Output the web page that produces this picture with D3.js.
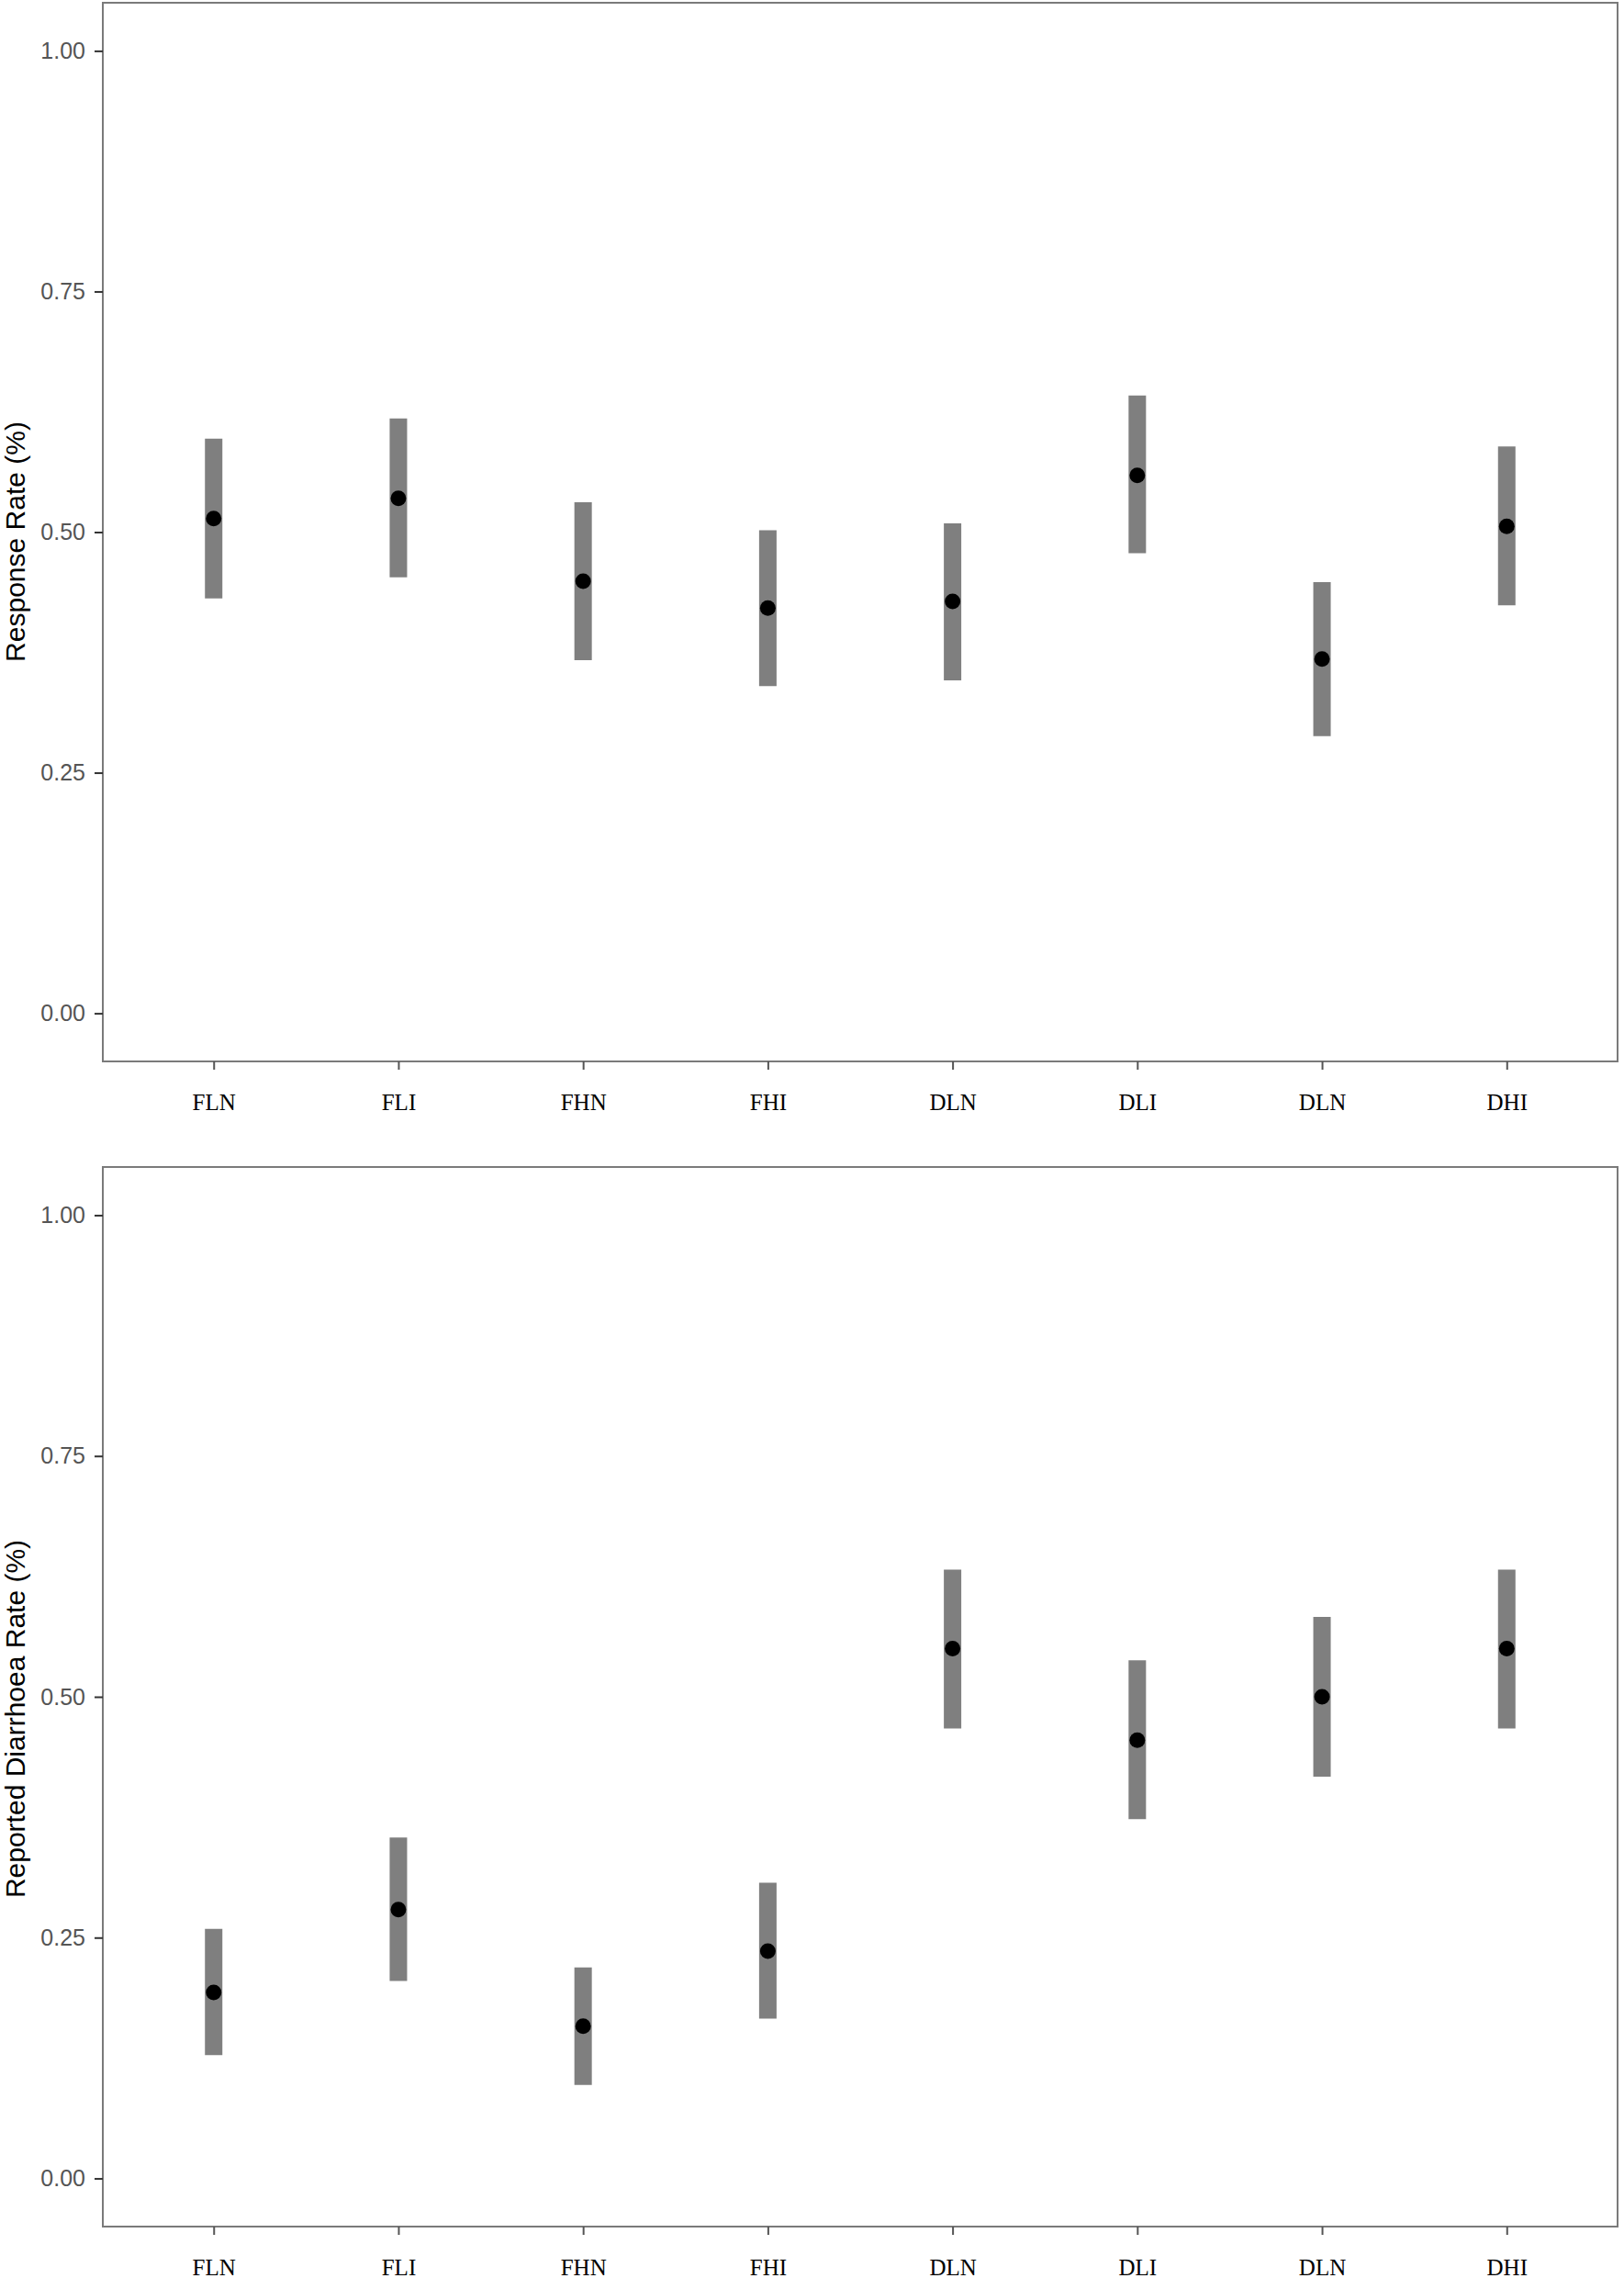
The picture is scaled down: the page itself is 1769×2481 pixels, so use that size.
<!DOCTYPE html>
<html>
<head>
<meta charset="utf-8">
<script src="https://cdn.jsdelivr.net/npm/d3@7"></script>
<style>
  body { margin: 0; background: #fff; }
  .ytick text { font-family: "Liberation Sans", Arial, sans-serif; fill: #555; }
  .xtick text { font-family: "Liberation Serif", "Times New Roman", serif; fill: #000; }
</style>
</head>
<body>
<svg id="chart" width="1769" height="2481"></svg>
<script>
// groups along the x axis (same order in both panels)
var groups = ['FLN', 'FLI', 'FHN', 'FHI', 'DLN', 'DLI', 'DLN ', 'DHI'];
var groupLabels = ['FLN', 'FLI', 'FHN', 'FHI', 'DLN', 'DLI', 'DLN', 'DHI'];
var yTicks = [0, 0.25, 0.5, 0.75, 1];

// panel 1: response rate
var responseMean  = [0.514, 0.535, 0.449, 0.421, 0.428, 0.559, 0.368, 0.506];
var responseLower = [0.431, 0.453, 0.367, 0.340, 0.346, 0.478, 0.288, 0.424];
var responseUpper = [0.597, 0.618, 0.531, 0.502, 0.509, 0.642, 0.448, 0.589];

// panel 2: reported diarrhoea rate
var diarrMean  = [0.193, 0.279, 0.158, 0.236, 0.550, 0.455, 0.500, 0.550];
var diarrLower = [0.128, 0.205, 0.097, 0.166, 0.467, 0.373, 0.417, 0.467];
var diarrUpper = [0.259, 0.354, 0.219, 0.307, 0.632, 0.538, 0.583, 0.632];

var panels = [
    {title: 'Response Rate (%)', mean: responseMean, lower: responseLower, upper: responseUpper,
     top: 3, bottom: 1156, titleY: 590},
    {title: 'Reported Diarrhoea Rate (%)', mean: diarrMean, lower: diarrLower, upper: diarrUpper,
     top: 1271, bottom: 2425, titleY: 1872}
];

var left = 112, right = 1762;
var svg = d3.select('#chart');

// discrete axis with ggplot-like 0.6 expansion on each side
var x = d3.scalePoint()
    .domain(groups)
    .range([left, right])
    .padding(0.6);

panels.forEach(function(p) {
    // continuous axis expanded by 5% each side
    var y = d3.scaleLinear()
        .domain([-0.05, 1.05])
        .range([p.bottom, p.top]);

    var g = svg.append('g');

    var rows = groups.map(function(k, i) {
        return {key: k, mean: p.mean[i], lo: p.lower[i], hi: p.upper[i]};
    });

    // interval bars
    g.selectAll('.bar')
        .data(rows)
        .enter().append('line')
        .attr('class', 'bar')
        .attr('x1', function(d) { return x(d.key); })
        .attr('x2', function(d) { return x(d.key); })
        .attr('y1', function(d) { return y(d.lo); })
        .attr('y2', function(d) { return y(d.hi); })
        .attr('stroke', '#7f7f7f')
        .attr('stroke-width', 19);

    // point estimates
    g.selectAll('.dot')
        .data(rows)
        .enter().append('circle')
        .attr('class', 'dot')
        .attr('cx', function(d) { return x(d.key); })
        .attr('cy', function(d) { return y(d.mean); })
        .attr('r', 8.5)
        .attr('fill', '#000');

    // panel border
    g.append('rect')
        .attr('x', left)
        .attr('y', p.top)
        .attr('width', right - left)
        .attr('height', p.bottom - p.top)
        .attr('fill', 'none')
        .attr('stroke', '#7a7a7a')
        .attr('stroke-width', 2);

    var yAxis = d3.axisLeft(y)
        .tickValues(yTicks)
        .tickFormat(d3.format('.2f'))
        .tickSize(9)
        .tickPadding(10);
    var ya = g.append('g')
        .attr('class', 'ytick')
        .attr('transform', 'translate(' + left + ',0)')
        .call(yAxis);
    ya.select('.domain').remove();
    ya.selectAll('line').attr('stroke', '#333').attr('stroke-width', 2);
    ya.selectAll('text').attr('font-size', 25);

    var xAxis = d3.axisBottom(x)
        .tickFormat(function(d, i) { return groupLabels[i]; })
        .tickSize(9)
        .tickPadding(26);
    var xa = g.append('g')
        .attr('class', 'xtick')
        .attr('transform', 'translate(0,' + p.bottom + ')')
        .call(xAxis);
    xa.select('.domain').remove();
    xa.selectAll('line').attr('stroke', '#555').attr('stroke-width', 2);
    xa.selectAll('text').attr('font-size', 25);

    svg.append('text')
        .attr('transform', 'translate(27,' + p.titleY + ') rotate(-90)')
        .attr('text-anchor', 'middle')
        .attr('font-family', '"Liberation Sans", Arial, sans-serif')
        .attr('font-size', 30)
        .attr('fill', '#000')
        .text(p.title);
});
</script>
</body>
</html>
